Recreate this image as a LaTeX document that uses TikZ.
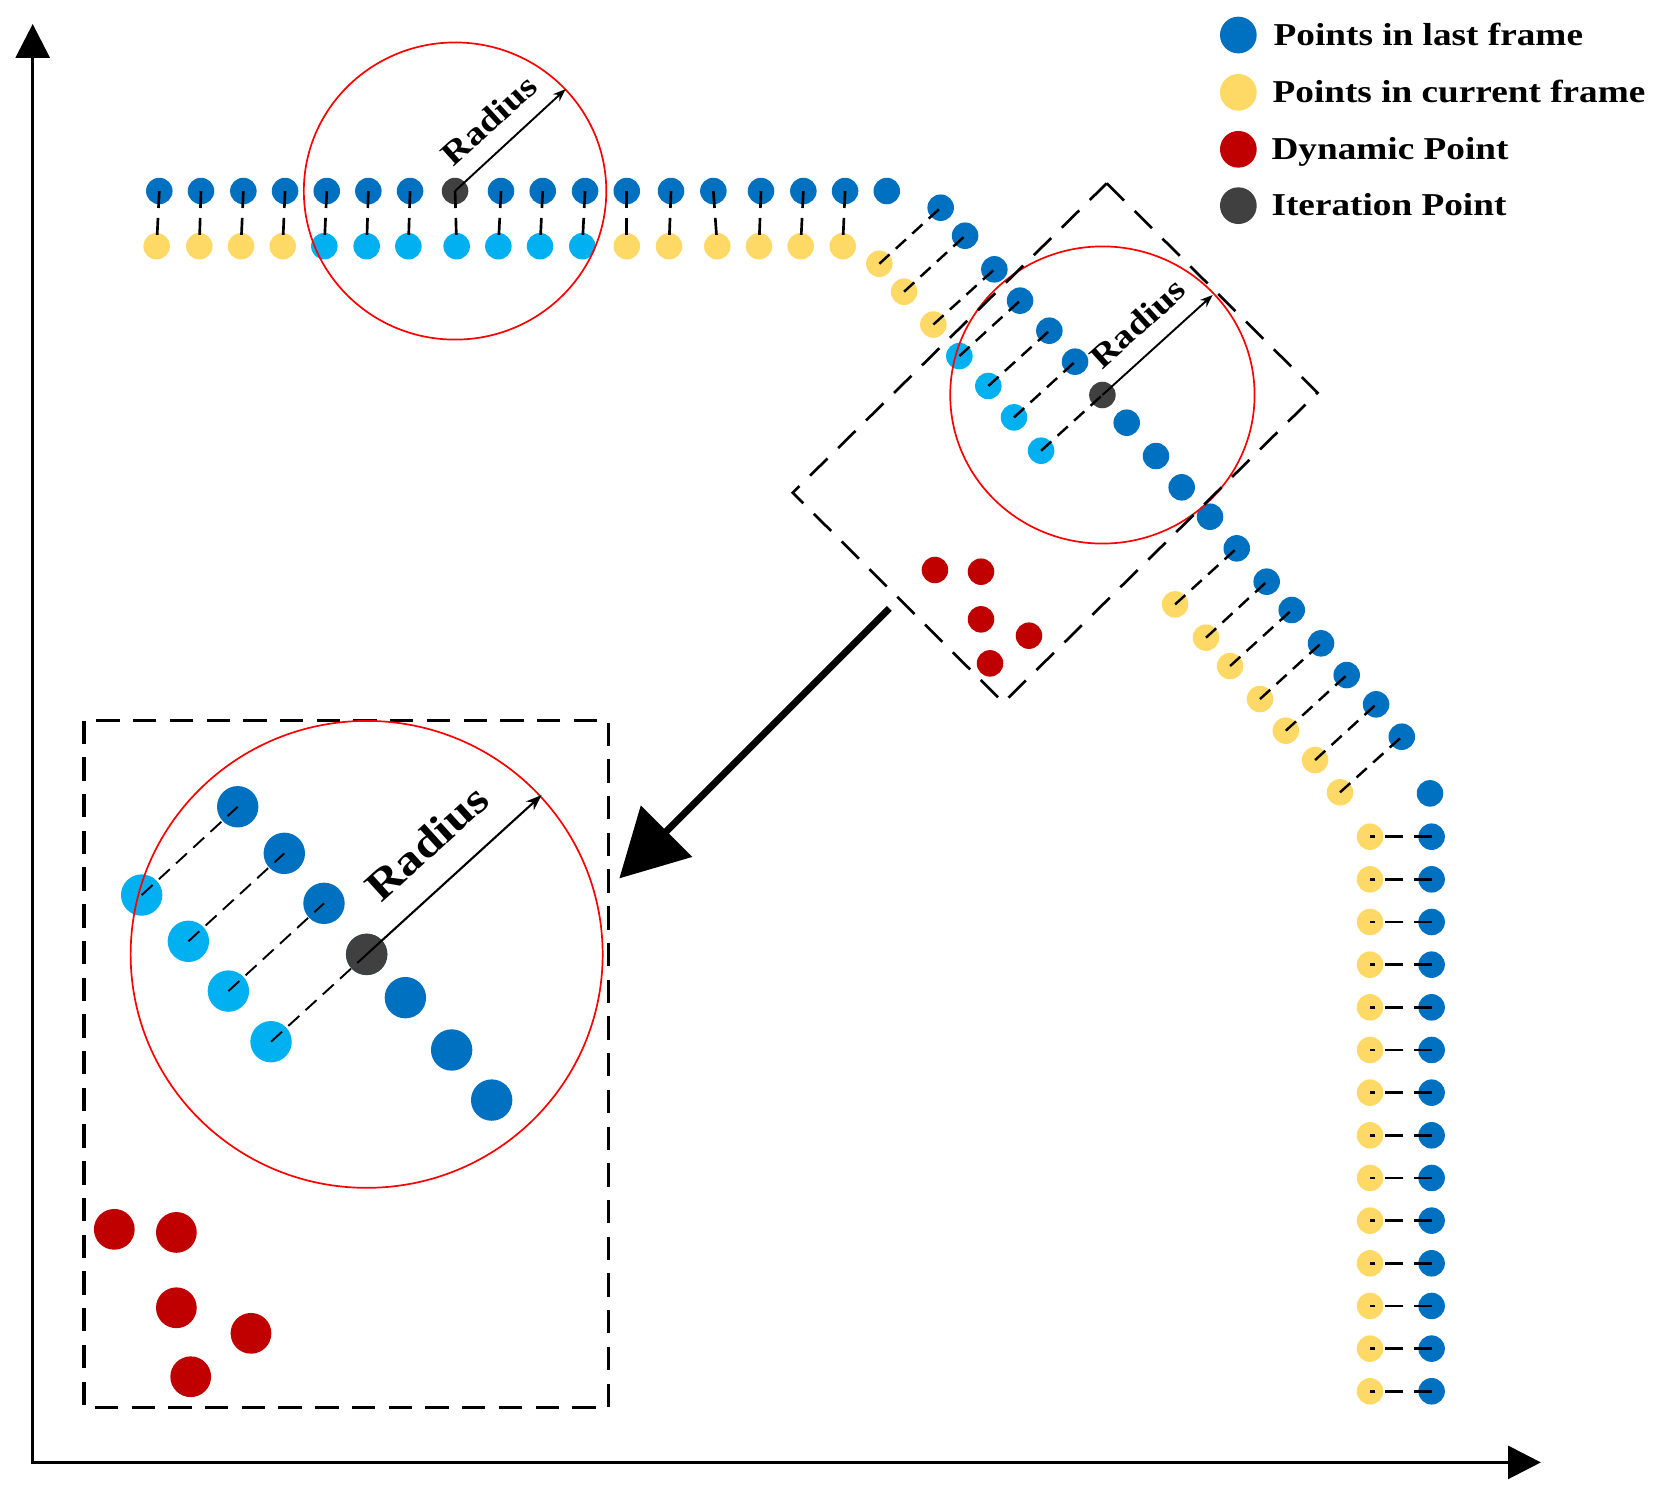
\documentclass[tikz,border=0pt]{standalone}
\usepackage{fontspec}
\setmainfont{Liberation Serif}
\usetikzlibrary{arrows.meta}
\definecolor{dblue}{HTML}{0070C0}
\definecolor{lblue}{HTML}{00B0F0}
\definecolor{yel}{HTML}{FFD966}
\definecolor{dred}{HTML}{C00000}
\definecolor{dgray}{HTML}{404040}
\definecolor{cred}{HTML}{FF0000}
\tikzset{
  dot/.style={circle, inner sep=0pt, minimum size=25pt, draw=none},
  bigdot/.style={circle, inner sep=0pt, minimum size=39pt, draw=none},
  legdot/.style={circle, inner sep=0pt, minimum size=34.6pt, draw=none},
  vlink/.style={line width=2.5pt, dash pattern=on 16pt off 9.4pt on 16pt off 40pt},
  dlink/.style={line width=2.3pt, dash pattern=on 13pt off 8pt},
  hlink/.style={line width=2.4pt, dash pattern=on 17pt off 9.5pt},
  ilink/.style={line width=1.8pt, dash pattern=on 14pt off 8pt},
  zone/.style={line width=2.5pt, dash pattern=on 23pt off 14pt},
  izone/.style={line width=3pt, dash pattern=on 22pt off 12.6pt},
  redc/.style={draw=cred, line width=1.6pt},
  radarrow/.style={line width=1.8pt, -{Stealth[length=12pt,width=9pt]}},
  radtext/.style={font=\bfseries\fontsize{31}{38}\selectfont, inner sep=0pt, rotate=42.2},
  legtext/.style={font=\bfseries\fontsize{30}{36}\selectfont, inner sep=0pt, anchor=base west}
}
\begin{document}
\begin{tikzpicture}[x=1pt,y=-1pt]
\useasboundingbox (0,0) rectangle (1568,1409);

% axes
\coordinate (ytip) at (30.8,22.6);
\coordinate (org) at (30.8,1378);
\coordinate (xtip) at (1452,1378);
\draw[line width=3.1pt, {Triangle[length=32pt,width=32pt]}-{Triangle[length=31pt,width=31pt]}] (ytip) -- (org) -- (xtip);

% top rows
\foreach \x/\c [count=\i] in {150.1/dblue,189.4/dblue,229.3/dblue,268.6/dblue,307.9/dblue,347.1/dblue,386.4/dblue,428.8/dgray,472.1/dblue,511.4/dblue,551.3/dblue,590.6/dblue,632.3/dblue,672.2/dblue,717.1/dblue,757/dblue,796.3/dblue,835.6/dblue}
  \node[dot, fill=\c] (tb\i) at (\x,180) {};
\foreach \x/\c [count=\i] in {147.6/yel,187.8/yel,227.1/yel,266.4/yel,305.6/lblue,345.5/lblue,384.8/lblue,430.3/lblue,469.6/lblue,508.9/lblue,548.7/lblue,590.6/yel,630.4/yel,675.9/yel,715.2/yel,754.5/yel,794.1/yel}
  \node[dot, fill=\c] (ty\i) at (\x,232) {};

% diagonal part
\foreach \x/\y/\c [count=\i] in {886.4/195.7/dblue,909.4/222.1/dblue,937/253.8/dblue,961.2/283.3/dblue,988.8/311.6/dblue,1013/340.8/dblue,1038.8/372.2/dgray}
  \node[dot, fill=\c] (d\i) at (\x,\y) {};
\foreach \x/\y/\c [count=\i] in {828.6/248.5/yel,851.9/274.9/yel,879.5/305.8/yel,904/335.5/lblue,931.3/363.7/lblue,955.5/393.3/lblue,981/424.7/lblue}
  \node[dot, fill=\c] (u\i) at (\x,\y) {};
\foreach \x/\y [count=\i] in {1061.7/398.3,1089.3/429.7,1113.5/459.2,1140.2/486.9,1165.4/516.7,1193.6/548.1,1217.2/574.8,1244.8/606.2,1269/636.1,1296.7/663.7,1320.9/694.2,1347.5/747.6}
  \node[dot, fill=dblue] (e\i) at (\x,\y) {};
\foreach \x/\y [count=\i] in {1107.3/569.5,1136.4/600.9,1159.1/627.6,1187.3/658.7,1211.6/688.5,1239.2/716.2,1262.7/746.6}
  \node[dot, fill=yel] (w\i) at (\x,\y) {};

% vertical column
\foreach \i in {1,...,14} {
  \pgfmathsetmacro{\yy}{788.4+40.2*(\i-1)}
  \node[dot, fill=dblue] (cb\i) at (1349,\yy) {};
  \node[dot, fill=yel] (cy\i) at (1291,\yy) {};
}

% small dynamic points
\foreach \x/\y [count=\i] in {881/537.1,924.4/538.7,924.4/583.6,969.6/599,932.9/625.1}
  \node[dot, fill=dred] (r\i) at (\x,\y) {};

% links
\foreach \i in {1,...,17} \draw[vlink] (tb\i.center) -- (ty\i.center);
\foreach \i in {1,...,7} \draw[dlink] (u\i.center) -- (d\i.center);
\foreach \i [evaluate=\i as \j using int(\i+4)] in {1,...,7} \draw[dlink] (w\i.center) -- (e\j.center);
\foreach \i in {1,...,14} \draw[hlink] (cb\i.center) -- (cy\i.center);

% circle 1
\draw[redc] (tb8.center) ellipse [x radius=142.5, y radius=140];
\coordinate (tip1) at (533,84);
\draw[radarrow] (tb8.center) -- (tip1);
\node[radtext] (rad1) at (461,113) {\scalebox{1.17}[1]{Radius}};

% circle 2
\draw[redc] (d7.center) ellipse [x radius=143.4, y radius=140];
\coordinate (tip2) at (1142.7,278);
\draw[radarrow] (d7.center) -- (tip2);
\node[radtext] (rad2) at (1072,304.5) {\scalebox{1.17}[1]{Radius}};

% rotated zone
\coordinate (zT) at (1042.9,172.7);
\coordinate (zR) at (1241.5,370);
\coordinate (zB) at (945.5,662.1);
\coordinate (zL) at (747,464.3);
\draw[zone] (zT) -- (zR) -- (zB) -- (zL) -- cycle;

% big arrow
\coordinate (atail) at (838,573.3);
\coordinate (ahead) at (583.6,827.7);
\draw[line width=6.5pt, -{Triangle[length=63pt,width=67pt]}] (atail) -- (ahead);

% inset
\coordinate (iA) at (79.2,679);
\coordinate (iB) at (573.3,1326.2);
\draw[izone] (iA) rectangle (iB);
\foreach \x/\y [count=\i] in {224/760.2,267.9/804.1,305.3/851.2,345.5/899.3,382/940.1,425.6/989.4,463.3/1036.6}
  \node[bigdot, fill=dblue] (ib\i) at (\x,\y) {};
\node[bigdot, fill=dgray] (ig) at (345.5,899.3) {};
\foreach \x/\y [count=\i] in {133.5/843.4,177.5/887,215.2/933.9,255.4/981.6}
  \node[bigdot, fill=lblue] (il\i) at (\x,\y) {};
\foreach \x/\y [count=\i] in {107.7/1158.4,166.2/1161.3,166.2/1232.3,236.5/1256.4,179.7/1297.3}
  \node[bigdot, minimum size=38.4pt, fill=dred] (ir\i) at (\x,\y) {};
\draw[ilink] (il1.center) -- (ib1.center);
\draw[ilink] (il2.center) -- (ib2.center);
\draw[ilink] (il3.center) -- (ib3.center);
\draw[ilink] (il4.center) -- (ig.center);
\draw[redc] (ig.center) ellipse [x radius=222.4, y radius=220];
\coordinate (tip3) at (510.4,749.2);
\draw[line width=2pt, -{Stealth[length=15pt,width=11pt]}] (ig.center) -- (tip3);
\node[radtext, font=\bfseries\fontsize{40}{48}\selectfont] (rad3) at (402,794) {\scalebox{1.17}[1]{Radius}};

% legend
\node[legdot, fill=dblue] (l1) at (1166.9,33) {};
\node[legdot, fill=yel] (l2) at (1166.9,87) {};
\node[legdot, fill=dred] (l3) at (1166.9,140.7) {};
\node[legdot, fill=dgray] (l4) at (1166.9,193.8) {};
\node[legtext] (t1) at (1200,42.5) {\scalebox{1.17}[1]{Points in last frame}};
\node[legtext] (t2) at (1199,96.5) {\scalebox{1.17}[1]{Points in current frame}};
\node[legtext] (t3) at (1198,150.2) {\scalebox{1.17}[1]{Dynamic Point}};
\node[legtext] (t4) at (1198,203.3) {\scalebox{1.17}[1]{Iteration Point}};
\end{tikzpicture}
\end{document}
